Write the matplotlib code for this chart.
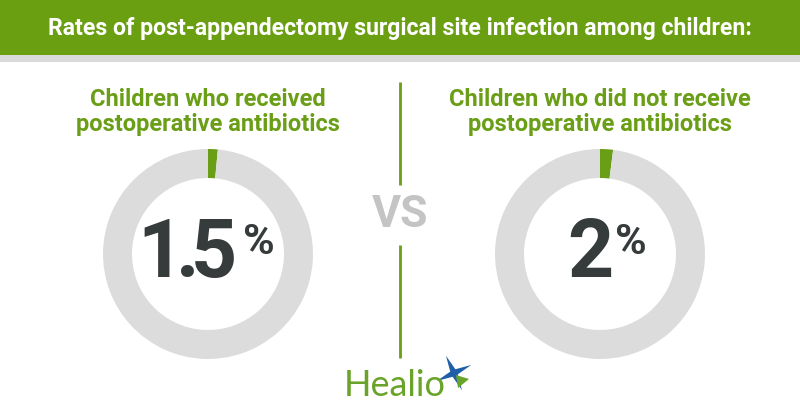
import numpy as np
import matplotlib
matplotlib.use("Agg")
import matplotlib.pyplot as plt
from matplotlib.patches import Rectangle, Polygon

# dati
TITLE = "Rates of post-appendectomy surgical site infection among children:"
GROUPS = ["Children who received\npostoperative antibiotics",
          "Children who did not receive\npostoperative antibiotics"]
RATES = [1.5, 2.0]
RATE_LABELS = ["1.5", "2"]

GREEN = "#6a9e16"
HEAD_GREEN = "#6a9f12"
RING = "#dcdcdc"
DARK = "#363b3c"
VS_GREY = "#c4c4c4"

W, H = 800, 420
fig = plt.figure(figsize=(8, 4.2), dpi=100, facecolor="white")
ax = fig.add_axes([0, 0, 1, 1])
ax.set_xlim(0, W)
ax.set_ylim(0, H)
renderer = fig.canvas.get_renderer()


def Y(py):
    # coordinate pixel dall'alto -> coordinate dati
    return H - py


def width_px(t):
    return t.get_window_extent(renderer=renderer).width


# fascia del titolo
ax.add_patch(Rectangle((0, Y(55)), W, 55, color=HEAD_GREEN, lw=0))
ax.add_patch(Rectangle((0, Y(62)), W, 7, color="#dadada", lw=0))
tt = ax.text(400, Y(29), TITLE, ha="center", va="center", color="white",
             fontsize=16, fontweight="bold", family="Roboto")
tt.set_fontsize(16 * 704 / width_px(tt))   # larghezza come nel riferimento

centers = [208, 600]
for cx, grp, rate, lab in zip(centers, GROUPS, RATES, RATE_LABELS):
    ax.text(cx, Y(112), grp, ha="center", va="center", color=GREEN,
            fontsize=17, fontweight="bold", family="Roboto", linespacing=1.12)
    ax.pie([rate, 100 - rate], colors=[GREEN, RING], startangle=90,
           counterclock=False, radius=105, center=(cx, Y(254)),
           wedgeprops=dict(width=29, linewidth=0))
    # cifre con spaziatura stretta, allineate a destra
    x = cx + 29 if lab != "2" else cx + 14
    for ch in reversed(list(lab)):
        t = ax.text(x, Y(255), ch, ha="right", va="center", color=DARK,
                    fontsize=58, fontweight="bold", family="Roboto")
        x -= width_px(t) - (9 if ch != "." else 7)
    ax.text((cx + 35) if lab != "2" else (cx + 15), Y(242), "%", ha="left",
            va="center", color=DARK, fontsize=31, fontweight="bold", family="Roboto")

# separatore VS
ax.plot([400, 400], [Y(82), Y(185)], color=GREEN, lw=2, solid_capstyle="butt")
ax.plot([400, 400], [Y(245), Y(358)], color=GREEN, lw=2, solid_capstyle="butt")
ax.text(400, Y(215), "VS", ha="center", va="center", color=VS_GREY,
        fontsize=32, fontweight="bold", family="Roboto")

# logo Healio
ax.text(344, Y(386), "Healio", ha="left", va="center", color="#6aa329",
        fontsize=26, family="Lato")
sx, sy = 454, Y(373)
star = []
for k in range(8):
    ang = np.deg2rad(25 + k * 45)
    r = 19 if k % 2 == 0 else 4
    star.append((sx + r * np.cos(ang), sy + r * np.sin(ang)))
ax.add_patch(Polygon(star, closed=True, color="#1f5fa8", lw=0))
ax.add_patch(Polygon([(sx + 2, sy - 2), (sx + 15, sy - 6), (sx + 4, sy - 15)],
                     closed=True, color="#6aa329", lw=0))

ax.set_xlim(0, W)
ax.set_ylim(0, H)
ax.set_aspect("auto")
ax.axis("off")
fig.savefig("out.png", dpi=100, facecolor="white")
